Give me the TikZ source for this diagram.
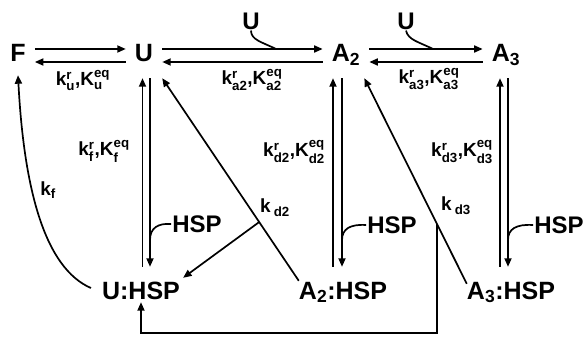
\documentclass[tikz,border=0pt]{standalone}
\usepackage{amsmath}
\usepackage{fontspec}
\setmainfont{Liberation Sans}
\usetikzlibrary{arrows.meta}

\newcommand{\kk}[3]{#1$^{\text{#2}}_{\text{#3}}$}

\begin{document}
\begin{tikzpicture}[
    x=1pt, y=-1pt,
    species/.style={
        font=\fontsize{25}{28}\bfseries, text height=18pt, text depth=0pt,
        anchor=base, inner xsep=9pt, inner ysep=16pt
    },
    complex/.style={
        font=\fontsize{25}{28}\bfseries, text height=18pt, text depth=0pt,
        anchor=base, inner sep=3pt
    },
    rate/.style={font=\fontsize{19}{22}\bfseries, inner sep=1pt},
    chap/.style={font=\fontsize{24}{28}\bfseries, inner sep=1pt},
    arrow/.style={-{Triangle[length=8.5pt,width=7pt]}, line width=1.7pt},
    plain/.style={line width=1.7pt}
]
\useasboundingbox (0,0) rectangle (584,337);

% Top row
\node[species] (F)  at (18,62)  {F};
\node[species] (U)  at (144,62) {U};
\node[species] (A2) at (346,62) {A$_{\text{2}}$};
\node[species] (A3) at (506,62) {A$_{\text{3}}$};

% Bottom row
\node[complex] (UH)  at (141,299) {U:HSP};
\node[complex] (AH2) at (343,299) {A$_{\text{2}}$:HSP};
\node[complex] (AH3) at (511,299) {A$_{\text{3}}$:HSP};

% Horizontal equilibria
\draw[arrow] ([yshift=4pt]F.east)  -- ([yshift=4pt]U.west);
\draw[arrow] ([yshift=-9pt]U.west) -- ([yshift=-9pt]F.east);
\draw[arrow] ([yshift=4pt]U.east)   -- ([yshift=4pt]A2.west);
\draw[arrow] ([yshift=-9pt]A2.west) -- ([yshift=-9pt]U.east);
\draw[arrow] ([yshift=4pt]A2.east)  -- ([yshift=4pt]A3.west);
\draw[arrow] ([yshift=-9pt]A3.west) -- ([yshift=-9pt]A2.east);

% Co-factor U on the association steps
\node[chap] (Ua) at (251,21) {U};
\node[chap] (Ub) at (406,21) {U};
\draw[plain] (Ua.south) .. controls (251,40) and (262,42) .. (276,49);
\draw[plain] (Ub.south) .. controls (408,40) and (419,42) .. (433,49);

\node[rate] (ku)  at (83,80)  {\kk{k}{r}{u},\kk{K}{eq}{u}};
\node[rate] (ka2) at (252,80) {\kk{k}{r}{a2},\kk{K}{eq}{a2}};
\node[rate] (ka3) at (429,79) {\kk{k}{r}{a3},\kk{K}{eq}{a3}};

% Vertical HSP binding
\draw[arrow, shorten <=11pt] ([xshift=-1.5pt]U.south |- UH.north) -- ([xshift=-1.5pt]U.south);
\draw[arrow, shorten >=11pt] ([xshift=6pt]U.south) -- ([xshift=6pt]U.south |- UH.north);
\draw[arrow, shorten <=11pt] ([xshift=-13pt]A2.south |- AH2.north) -- ([xshift=-13pt]A2.south);
\draw[arrow, shorten >=11pt] ([xshift=-4pt]A2.south) -- ([xshift=-4pt]A2.south |- AH2.north);
\draw[arrow, shorten <=11pt] ([xshift=-6pt]A3.south |- AH3.north) -- ([xshift=-6pt]A3.south);
\draw[arrow, shorten >=11pt] ([xshift=2pt]A3.south) -- ([xshift=2pt]A3.south |- AH3.north);

\node[rate] (kf)  at (104,151) {\kk{k}{r}{f},\kk{K}{eq}{f}};
\node[rate] (kd2) at (294,152) {\kk{k}{r}{d2},\kk{K}{eq}{d2}};
\node[rate] (kd3) at (462,152) {\kk{k}{r}{d3},\kk{K}{eq}{d3}};

\node[chap] (H1) at (197,224) {HSP};
\node[chap] (H2) at (392,225) {HSP};
\node[chap] (H3) at (559,225) {HSP};
\draw[plain] (H1.west) .. controls (158,223) and (150,228) .. (150,240);
\draw[plain] (H2.west) .. controls (350,224) and (342,229) .. (342,240);
\draw[plain] (H3.west) .. controls (516,224) and (508,229) .. (508,240);

% Dissociation of the complexes
\draw[arrow] ([xshift=3pt,yshift=-3pt]AH2.north west) -- coordinate[pos=0.29] (b2) (U.south east);
\draw[arrow] ([xshift=3pt,yshift=-6pt]AH3.north west) -- coordinate[pos=0.29] (b3) ([xshift=-5pt]A2.south east);
\draw[arrow] (b2) -- (UH.north east);
\coordinate (loop) at (0,333);
\draw[arrow] (b3) -- (b3 |- loop) -| (UH.south);

\node[rate] (kd2b) at (275,208) {k\,$_{\text{d2}}$};
\node[rate] (kd3b) at (456,206) {k\,$_{\text{d3}}$};

% Folding
\draw[arrow] ([xshift=-8pt,yshift=2pt]UH.west) .. controls (45,268) and (24,190) .. ([yshift=3pt]F.south);
\node[rate] (kfb) at (48,190) {k$_{\text{f}}$};

\end{tikzpicture}
\end{document}
